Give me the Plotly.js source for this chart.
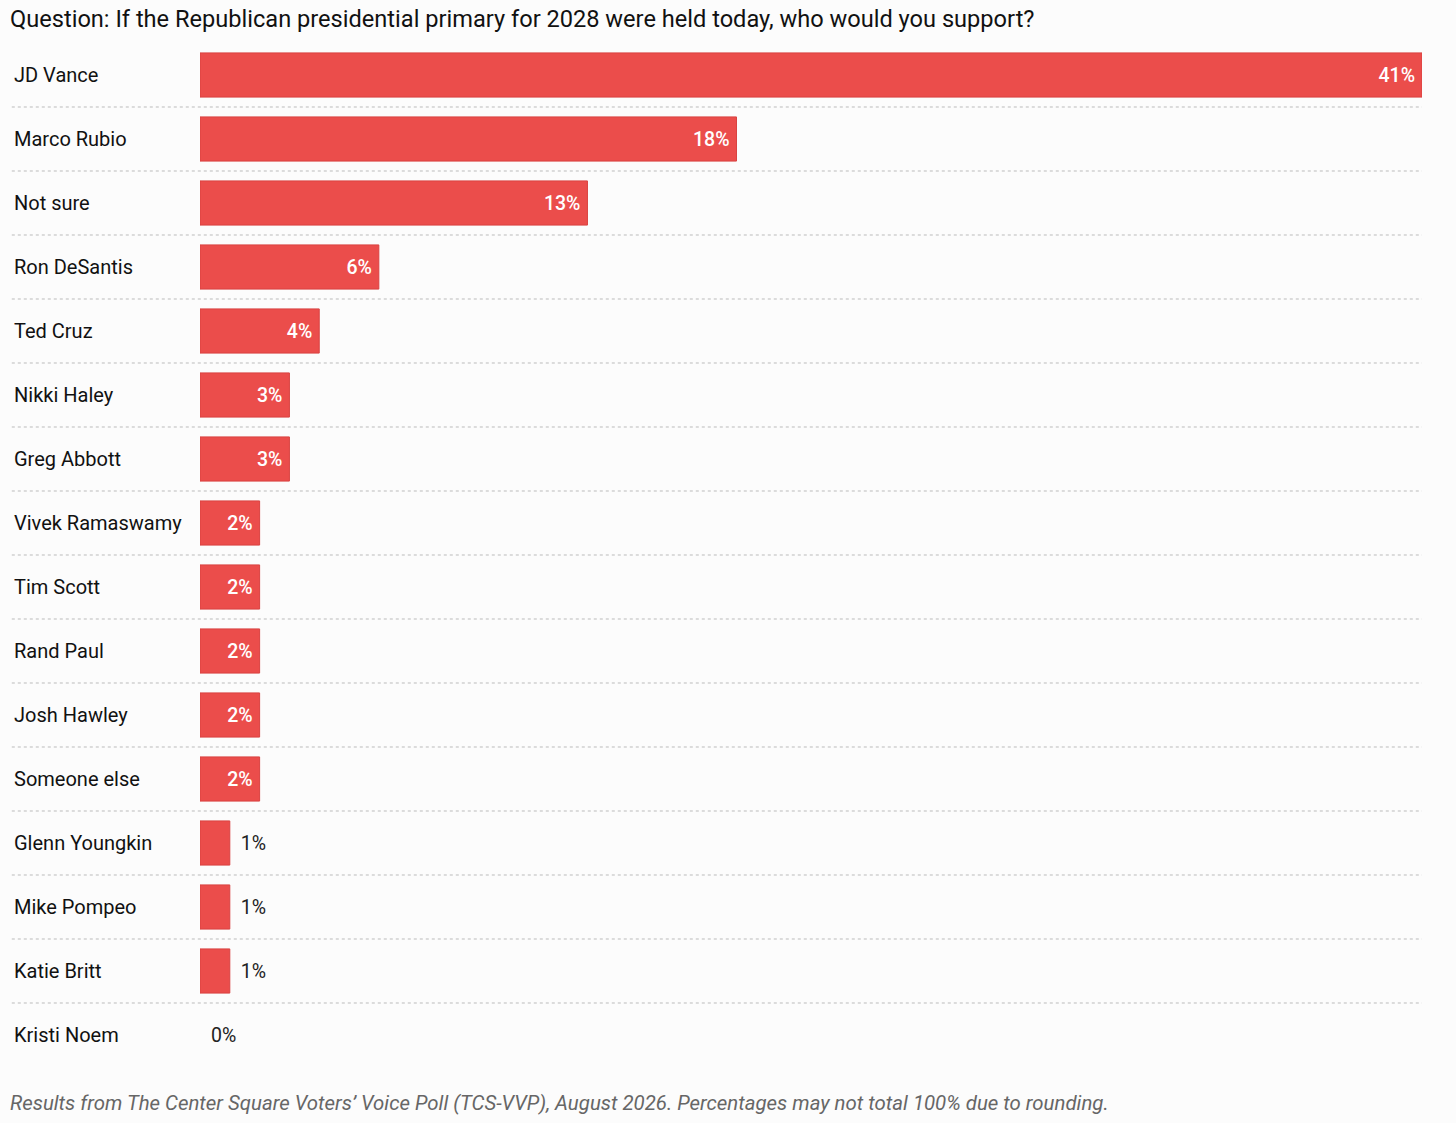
<!DOCTYPE html>
<html><head><meta charset="utf-8">
<script src="https://cdn.plot.ly/plotly-3.0.1.min.js"></script>
<style>body{margin:0;background:#fcfcfc}</style></head>
<body><div id="chart" style="width:1456px;height:1123px"></div>
<script>
const candidates = ["JD Vance","Marco Rubio","Not sure","Ron DeSantis","Ted Cruz","Nikki Haley","Greg Abbott","Vivek Ramaswamy","Tim Scott","Rand Paul","Josh Hawley","Someone else","Glenn Youngkin","Mike Pompeo","Katie Britt","Kristi Noem"];
const support = [41,18,13,6,4,3,3,2,2,2,2,2,1,1,1,0];
const titleText = "Question: If the Republican presidential primary for 2028 were held today, who would you support?";
const noteText = "Results from The Center Square Voters’ Voice Poll (TCS-VVP), August 2026. Percentages may not total 100% due to rounding.";

const inside = support.map(v => v >= 2);
const trace = {
  type: "bar", orientation: "h", y: candidates, x: support,
  marker: {color: "#eb4d4b", line: {color: "#d94240", width: support.map(v => v > 0 ? 1 : 0)}},
  width: 0.69,
  text: support.map((v, i) => inside[i] ? v + "%\u2009" : "\u2009\u2009" + v + "%"),
  texttemplate: "%{text}",
  textposition: inside.map(b => b ? "inside" : "outside"),
  insidetextanchor: "end",
  textfont: {family: "Roboto", size: 19.5, weight: inside.map(b => b ? 500 : 400), color: inside.map(b => b ? "#ffffff" : "#222")},
  constraintext: "none",
  cliponaxis: false,
  hoverinfo: "skip"
};
const shapes = [];
for (let i = 0; i < candidates.length - 1; i++) {
  shapes.push({type: "line", xref: "paper", yref: "y", x0: -0.154, x1: 1, y0: i + 0.5, y1: i + 0.5,
    line: {color: "#bbbbbb", width: 1, dash: "dot"}});
}
const annotations = candidates.map(c => ({
  xref: "paper", yref: "y", x: -0.154, y: c, xanchor: "left", text: c, showarrow: false,
  font: {family: "Roboto", size: 20, color: "#111"}
}));
annotations.push({xref: "paper", yref: "paper", x: -0.157, y: 1, yshift: 8, xanchor: "left", yanchor: "bottom",
  text: titleText, showarrow: false, font: {family: "Roboto", size: 23.6, color: "#111"}});
annotations.push({xref: "paper", yref: "paper", x: -0.157, y: 0, yshift: -22, xanchor: "left", yanchor: "top",
  text: "<i>" + noteText + "</i>", showarrow: false, font: {family: "Roboto", size: 20.4, color: "#666"}});
const layout = {
  width: 1456, height: 1123,
  margin: {l: 200, r: 34, t: 43, b: 56},
  paper_bgcolor: "#fcfcfc", plot_bgcolor: "#fcfcfc",
  xaxis: {range: [0, 41], visible: false, fixedrange: true},
  yaxis: {type: "category", range: [15.5, -0.5], showticklabels: false, showgrid: false, zeroline: false, fixedrange: true},
  showlegend: false, shapes, annotations
};
Plotly.newPlot("chart", [trace], layout, {displayModeBar: false, staticPlot: true});
</script></body></html>
